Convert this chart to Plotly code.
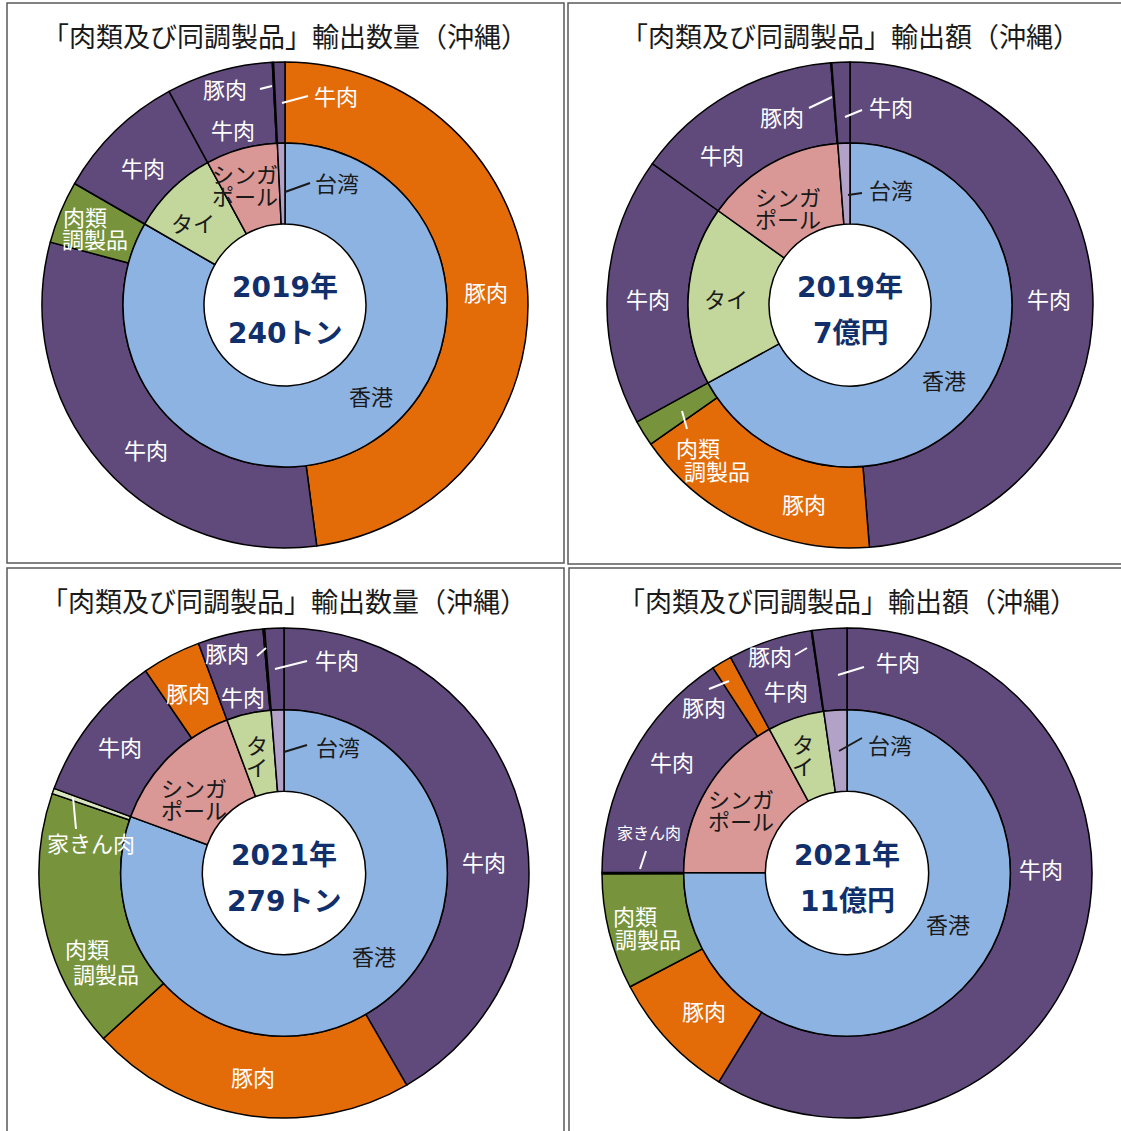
import plotly.graph_objects as go

W, H = 1121, 1131

# ---------------- data ----------------
# 2019 輸出数量 (トン)
qty2019_country = ["香港", "香港", "香港", "タイ", "シンガポール", "シンガポール", "台湾"]
qty2019_product = ["豚肉", "牛肉", "肉類調製品", "牛肉", "牛肉", "豚肉", "牛肉"]
qty2019_value = [115, 75, 10, 21, 17, 0.2, 1.8]

# 2019 輸出額 (百万円)
val2019_country = ["香港", "香港", "香港", "タイ", "シンガポール", "シンガポール", "台湾"]
val2019_product = ["牛肉", "豚肉", "肉類調製品", "牛肉", "牛肉", "豚肉", "牛肉"]
val2019_value = [341, 116, 12, 125, 97, 0.4, 8.4]

# 2021 輸出数量 (トン)
qty2021_country = ["香港", "香港", "香港", "香港", "シンガポール", "シンガポール", "タイ", "タイ", "台湾"]
qty2021_product = ["牛肉", "豚肉", "肉類調製品", "家きん肉", "牛肉", "豚肉", "牛肉", "豚肉", "牛肉"]
qty2021_value = [116, 60, 47.5, 1, 27.4, 10.8, 12, 0.3, 3.5]

# 2021 輸出額 (百万円)
val2021_country = ["香港", "香港", "香港", "香港", "シンガポール", "シンガポール", "タイ", "タイ", "台湾"]
val2021_product = ["牛肉", "豚肉", "肉類調製品", "家きん肉", "牛肉", "豚肉", "牛肉", "豚肉", "牛肉"]
val2021_value = [646, 94, 84, 1, 173, 14.7, 61, 0.6, 25]

titles = ["「肉類及び同調製品」輸出数量（沖縄）", "「肉類及び同調製品」輸出額（沖縄）",
          "「肉類及び同調製品」輸出数量（沖縄）", "「肉類及び同調製品」輸出額（沖縄）"]
center_line1 = ["2019年", "2019年", "2021年", "2021年"]
center_line2 = ["240トン", "7億円", "279トン", "11億円"]

# ---------------- styles ----------------
country_colors = {"香港": "#8DB3E2", "台湾": "#B3A2C7", "シンガポール": "#D99795", "タイ": "#C3D69B"}
product_colors = {"牛肉": "#5F4A7B", "豚肉": "#E36C09", "肉類調製品": "#77933C", "家きん肉": "#D7E4BD"}
JP = "Noto Sans CJK JP, Noto Sans, sans-serif"
DARK = "#1a1a1a"
WHITE = "#ffffff"
NAVY = "#112F6B"
LBL = 22

# panel geometry (pixels): center x, center y, outer radius
panels = [(285, 305, 243), (850, 305, 243), (284, 873, 245), (847, 873, 245)]
boxes = [(7, 3, 564, 563), (568, 3, 1125, 564), (7, 568, 564, 1135), (569, 568, 1125, 1135)]

datasets = [
    (qty2019_country, qty2019_product, qty2019_value),
    (val2019_country, val2019_product, val2019_value),
    (qty2021_country, qty2021_product, qty2021_value),
    (val2021_country, val2021_product, val2021_value),
]

# label placements relative to center (px): (text, dx, dy, color, size, leader)
labels = [
    [
        ("豚肉", 201, -14, WHITE, LBL, None),
        ("牛肉", -139, 144, WHITE, LBL, None),
        ("肉類", -200, -89, WHITE, LBL, None),
        ("調製品", -190, -67, WHITE, LBL, None),
        ("牛肉", -142, -138, WHITE, LBL, None),
        ("牛肉", -52, -176, WHITE, LBL, None),
        ("豚肉", -60, -217, WHITE, LBL, (-25, -216, -13, -219)),
        ("牛肉", 51, -210, WHITE, LBL, (-3, -202, 23, -209)),
        ("香港", 86, 90, DARK, LBL, None),
        ("タイ", -92, -83, DARK, LBL, None),
        ("シンガ\nポール", -40, -121, DARK, LBL, None),
        ("台湾", 52, -123, DARK, LBL, (0, -113, 25, -122)),
    ],
    [
        ("牛肉", 199, -7, WHITE, LBL, None),
        ("豚肉", -46, 198, WHITE, LBL, None),
        ("肉類", -152, 142, WHITE, LBL, None),
        ("調製品", -133, 165, WHITE, LBL, (-168, 106, -163, 124)),
        ("牛肉", -202, -7, WHITE, LBL, None),
        ("牛肉", -128, -151, WHITE, LBL, None),
        ("豚肉", -68, -189, WHITE, LBL, (-41, -197, -18, -208)),
        ("牛肉", 41, -199, WHITE, LBL, (-5, -188, 12, -195)),
        ("香港", 94, 74, DARK, LBL, None),
        ("タイ", -124, -7, DARK, LBL, None),
        ("シンガ\nポール", -62, -98, DARK, LBL, None),
        ("台湾", 41, -116, DARK, LBL, (-2, -110, 12, -112)),
    ],
    [
        ("牛肉", 200, -12, WHITE, LBL, None),
        ("豚肉", -31, 203, WHITE, LBL, None),
        ("肉類", -197, 75, WHITE, LBL, None),
        ("調製品", -178, 100, WHITE, LBL, None),
        ("家きん肉", -193, -31, WHITE, LBL, (-211, -76, -208, -44)),
        ("牛肉", -164, -127, WHITE, LBL, None),
        ("豚肉", -96, -181, WHITE, LBL, None),
        ("牛肉", -41, -177, WHITE, LBL, None),
        ("豚肉", -57, -221, WHITE, LBL, (-27, -217, -18, -225)),
        ("牛肉", 53, -214, WHITE, LBL, (-9, -204, 23, -212)),
        ("香港", 90, 82, DARK, LBL, None),
        ("シンガ\nポール", -90, -75, DARK, LBL, None),
        ("タ\nイ", -27, -118, DARK, LBL, None),
        ("台湾", 54, -127, DARK, LBL, (0, -121, 23, -128)),
    ],
    [
        ("牛肉", 194, -5, WHITE, LBL, None),
        ("豚肉", -143, 137, WHITE, LBL, None),
        ("肉類", -212, 42, WHITE, LBL, None),
        ("調製品", -199, 65, WHITE, LBL, None),
        ("家きん肉", -198, -41, WHITE, 16, (-201, -22, -207, -4)),
        ("牛肉", -175, -112, WHITE, LBL, None),
        ("豚肉", -143, -167, WHITE, LBL, (-138, -184, -118, -192)),
        ("牛肉", -61, -183, WHITE, LBL, None),
        ("豚肉", -77, -218, WHITE, LBL, (-52, -218, -40, -225)),
        ("牛肉", 51, -212, WHITE, LBL, (-9, -198, 17, -206)),
        ("香港", 101, 50, DARK, LBL, None),
        ("シンガ\nポール", -106, -64, DARK, LBL, None),
        ("タ\nイ", -44, -119, DARK, LBL, None),
        ("台湾", 43, -129, DARK, LBL, (-8, -122, 15, -135)),
    ],
]


def fx(x):
    return x / W


def fy(y):
    return 1 - y / H


fig = go.Figure()
annotations = []
shapes = []

for i, ((cx, cy, r), (countries, products, values)) in enumerate(zip(panels, datasets)):
    order = list(dict.fromkeys(countries))
    inner_vals = [sum(v for c, v in zip(countries, values) if c == k) for k in order]
    # outer ring: product breakdown per country
    fig.add_trace(go.Pie(
        values=values,
        labels=[f"{c}・{p}" for c, p in zip(countries, products)],
        marker=dict(colors=[product_colors[p] for p in products], line=dict(color="black", width=1.5)),
        hole=2 / 3, sort=False, direction="clockwise", rotation=0,
        textinfo="none", showlegend=False,
        domain=dict(x=[fx(cx - r), fx(cx + r)], y=[fy(cy + r), fy(cy - r)]),
    ))
    r2 = r * 2 / 3
    fig.add_trace(go.Pie(
        values=inner_vals, labels=order,
        marker=dict(colors=[country_colors[c] for c in order], line=dict(color="black", width=1.5)),
        hole=0.5, sort=False, direction="clockwise", rotation=0,
        textinfo="none", showlegend=False,
        domain=dict(x=[fx(cx - r2), fx(cx + r2)], y=[fy(cy + r2), fy(cy - r2)]),
    ))
    # panel frame
    x0, y0, x1, y1 = boxes[i]
    shapes.append(dict(type="rect", xref="paper", yref="paper", x0=fx(x0), x1=fx(x1), y0=fy(y1), y1=fy(y0),
                       line=dict(color="#595959", width=1.5), fillcolor="rgba(0,0,0,0)", layer="above"))
    # title
    annotations.append(dict(x=fx(cx), y=fy(y0 + 32), xref="paper", yref="paper", text=titles[i],
                            showarrow=False, xanchor="center", yanchor="middle",
                            font=dict(family=JP, size=27, color=DARK)))
    # center text
    annotations.append(dict(x=fx(cx), y=fy(cy - 18), xref="paper", yref="paper", text=f"<b>{center_line1[i]}</b>",
                            showarrow=False, xanchor="center", yanchor="middle",
                            font=dict(family="DejaVu Sans, Noto Sans CJK JP", size=28, color=NAVY)))
    annotations.append(dict(x=fx(cx), y=fy(cy + 28), xref="paper", yref="paper", text=f"<b>{center_line2[i]}</b>",
                            showarrow=False, xanchor="center", yanchor="middle",
                            font=dict(family="DejaVu Sans, Noto Sans CJK JP", size=28, color=NAVY)))
    # labels
    for text, dx, dy, color, size, leader in labels[i]:
        lines = text.split("\n")
        step = size * 1.02
        start = dy - step * (len(lines) - 1) / 2
        for k, ln in enumerate(lines):
            annotations.append(dict(x=fx(cx + dx), y=fy(cy + start + k * step), xref="paper", yref="paper",
                                    text=ln, showarrow=False, xanchor="center", yanchor="middle",
                                    font=dict(family=JP, size=size, color=color)))
        if leader:
            lx0, ly0, lx1, ly1 = leader
            shapes.append(dict(type="line", xref="paper", yref="paper",
                               x0=fx(cx + lx0), y0=fy(cy + ly0), x1=fx(cx + lx1), y1=fy(cy + ly1),
                               line=dict(color=color, width=2), layer="above"))

fig.update_layout(width=W, height=H, margin=dict(l=0, r=0, t=0, b=0),
                  paper_bgcolor="white", plot_bgcolor="white", showlegend=False,
                  annotations=annotations, shapes=shapes)
fig.write_html("out.html", config={"displayModeBar": False},
               post_script="document.body.style.margin='0';document.body.style.padding='0';")
